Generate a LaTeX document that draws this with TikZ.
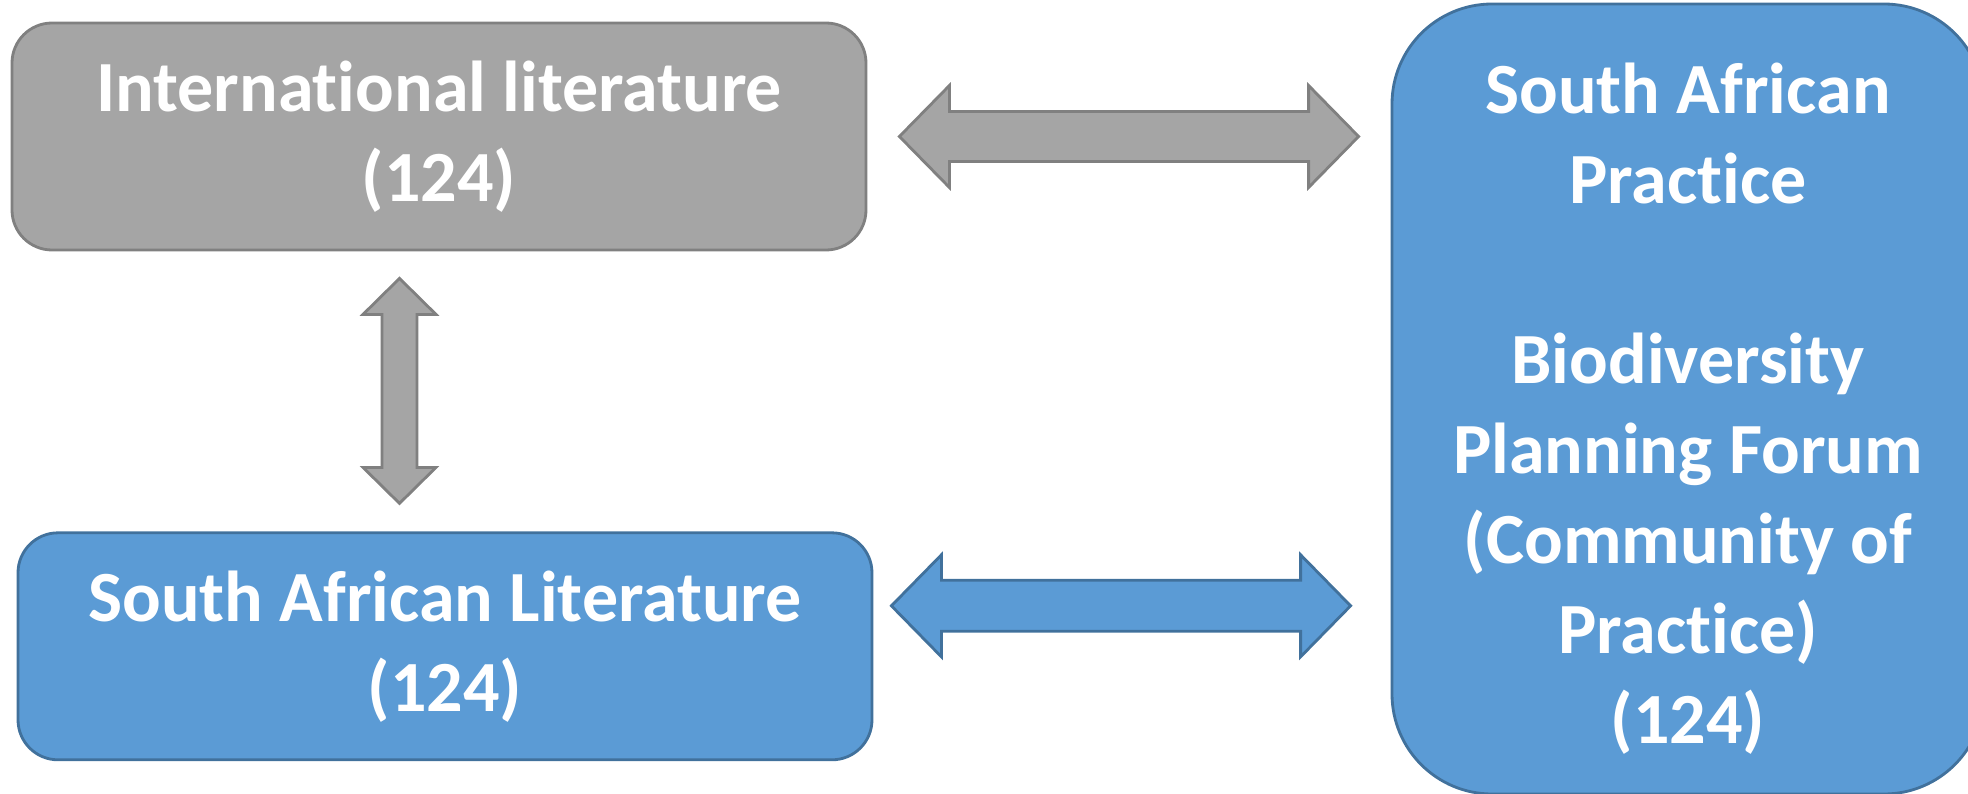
\documentclass[tikz,border=0pt]{standalone}
\usepackage{fontspec}
\setmainfont{Carlito}[Ligatures=NoCommon]
\usepackage{tikz}
\usetikzlibrary{positioning, calc}
\definecolor{boxgray}{RGB}{165, 165, 165}
\definecolor{edgegray}{RGB}{128, 128, 128}
\definecolor{boxblue}{RGB}{91, 155, 213}
\definecolor{edgeblue}{RGB}{65, 113, 156}

% fat double arrows: style, from, to, head length, head half width, shaft half width
\newcommand{\fatharrow}[6]{%
  \draw[#1] let \p1=(#2), \p2=(#3) in
    (\p1) -- (\x1+#4,\y1+#5) -- (\x1+#4,\y1+#6) -- (\x2-#4,\y1+#6) -- (\x2-#4,\y1+#5) -- (\p2)
    -- (\x2-#4,\y1-#5) -- (\x2-#4,\y1-#6) -- (\x1+#4,\y1-#6) -- (\x1+#4,\y1-#5) -- cycle;}
\newcommand{\fatvarrow}[6]{%
  \draw[#1] let \p1=(#2), \p2=(#3) in
    (\p1) -- (\x1+#5,\y1-#4) -- (\x1+#6,\y1-#4) -- (\x1+#6,\y2+#4) -- (\x1+#5,\y2+#4) -- (\p2)
    -- (\x1-#5,\y2+#4) -- (\x1-#6,\y2+#4) -- (\x1-#6,\y1-#4) -- (\x1-#5,\y1-#4) -- cycle;}

\begin{document}
\begin{tikzpicture}[
    boxtext/.style={text=white, align=center, font=\fontsize{20.5}{25.6}\selectfont\bfseries},
    graybox/.style={boxtext, fill=boxgray, draw=edgegray, line width=0.8pt, rounded corners=0.4cm,
        minimum width=8.54cm, minimum height=2.27cm},
    bluebox/.style={boxtext, fill=boxblue, draw=edgeblue, line width=0.8pt, rounded corners=0.4cm,
        minimum width=8.54cm, minimum height=2.27cm},
    grayarrow/.style={fill=boxgray, draw=edgegray, line width=0.8pt},
    bluearrow/.style={fill=boxblue, draw=edgeblue, line width=0.8pt}
]
    \useasboundingbox (0,0) rectangle (19.68,-7.94);

    % Literature boxes
    \node[graybox] (intl) at (4.39,-1.365) {International literature\\(124)};
    \node[bluebox, below=2.8cm of intl, xshift=0.06cm] (salit) {South African Literature\\(124)};

    % Practice box (text set on its own, a little low as in the slide)
    \node[bluebox, rounded corners=1cm, minimum width=5.92cm, minimum height=7.9cm] (sap) at (16.88,-3.99) {};
    \node[boxtext] (saptext) at ($(sap.center)+(0,-0.1)$)
        {South African\\Practice\\[25.6pt]Biodiversity\\Planning Forum\\(Community of\\Practice)\\(124)};

    % Arrow ends
    \coordinate (t1) at ($(intl.east)+(0.32,0)$);
    \coordinate (t2) at ($(sap.west |- t1)+(-0.32,0)$);
    \coordinate (b1) at ($(salit.east)+(0.18,0.405)$);
    \coordinate (b2) at ($(sap.west |- b1)+(-0.40,0)$);
    \coordinate (v1) at ($(intl.south)+(-0.395,-0.27)$);
    \coordinate (v2) at ($(v1 |- salit.north)+(0,0.28)$);

    % Arrows
    \fatharrow{grayarrow}{t1}{t2}{0.50cm}{0.51cm}{0.25cm}
    \fatharrow{bluearrow}{b1}{b2}{0.50cm}{0.51cm}{0.255cm}
    \fatvarrow{grayarrow}{v1}{v2}{0.36cm}{0.365cm}{0.175cm}
\end{tikzpicture}
\end{document}
